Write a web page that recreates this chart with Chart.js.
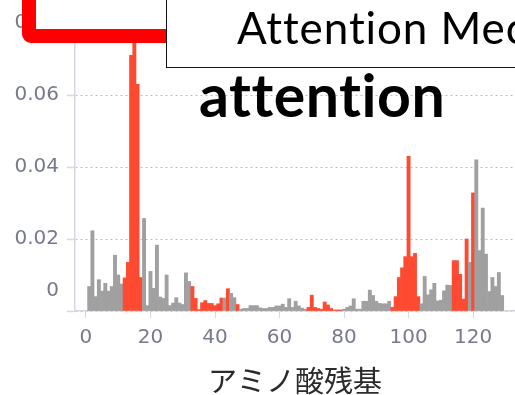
<!DOCTYPE html>
<html>
<head>
<meta charset="utf-8">
<script src="https://cdn.jsdelivr.net/npm/chart.js@4.4.1/dist/chart.umd.min.js"></script>
<style>
  html, body { margin: 0; padding: 0; background: #fff; overflow: hidden; }
  #wrap { position: relative; width: 515px; height: 395px; overflow: hidden; }
  #chart { position: absolute; left: 0; top: 0; }
  .frame {
    position: absolute; left: 22px; top: -60px; width: 420px; height: 103px;
    box-sizing: border-box; border: 14px solid #ff0000; border-radius: 9px; background: #fff;
  }
  .slide-box {
    position: absolute; left: 166px; top: -2px; width: 400px; height: 70px;
    box-sizing: border-box; border: 1.5px solid #111; background: #fff;
  }
  .slide-title { position: absolute; left: 237px; top: 5px; font: 44px/44px Lato, "Open Sans", sans-serif; letter-spacing: 0.9px; }
  .big-word { position: absolute; left: 199px; top: 66px; font: bold 59px/58px Lato, "Open Sans", sans-serif; letter-spacing: 0.5px; }
  .slide-title, .big-word {
    white-space: nowrap; color: #000;
    font-variant-ligatures: none; font-feature-settings: "liga" 0, "clig" 0, "dlig" 0, "calt" 0;
  }
</style>
</head>
<body>
<div id="wrap">
  <canvas id="chart" width="515" height="395"></canvas>
  <div class="frame"></div>
  <div class="slide-box"></div>
  <div class="slide-title">Attention Mec</div>
  <div class="big-word">attention</div>
</div>
<script>
// Attention weight per amino acid residue (1..129).
const attention = [
  0.0068, 0.0223, 0.0040, 0.0087, 0.0055, 0.0077, 0.0055, 0.0068, 0.0155, 0.0100,
  0.0075, 0.0092, 0.0135, 0.0710, 0.0850, 0.0630, 0.0093, 0.0257, 0.0015, 0.0110,
  0.0063, 0.0183, 0.0039, 0.0035, 0.0100, 0.0015, 0.0022, 0.0037, 0.0022, 0.0018,
  0.0106, 0.0082, 0.0068, 0.0035, 0.0004, 0.0023, 0.0029, 0.0021, 0.0021, 0.0015,
  0.0020, 0.0036, 0.0036, 0.0062, 0.0049, 0.0037, 0.0018, 0.0005, 0.0007, 0.0007,
  0.0015, 0.0015, 0.0015, 0.0009, 0.0007, 0.0007, 0.0010, 0.0010, 0.0014, 0.0014,
  0.0019, 0.0010, 0.0034, 0.0010, 0.0027, 0.0014, 0.0008, 0.0005, 0.0010, 0.0044,
  0.0010, 0.0007, 0.0005, 0.0025, 0.0017, 0.0007, 0.0003, 0.0003, 0.0003, 0.0005,
  0.0010, 0.0014, 0.0034, 0.0005, 0.0005, 0.0027, 0.0027, 0.0058, 0.0043, 0.0027,
  0.0021, 0.0020, 0.0020, 0.0027, 0.0010, 0.0040, 0.0093, 0.0120, 0.0151, 0.0430,
  0.0151, 0.0160, 0.0040, 0.0020, 0.0096, 0.0045, 0.0059, 0.0077, 0.0028, 0.0030,
  0.0056, 0.0072, 0.0071, 0.0140, 0.0140, 0.0102, 0.0033, 0.0200, 0.0135, 0.0328,
  0.0420, 0.0168, 0.0286, 0.0158, 0.0054, 0.0093, 0.0068, 0.0107, 0.0043,
];
const residues = attention.map((_, i) => i + 1);

// Residues drawn in red (the highlighted regions).
const highlighted = [
  12, 13, 14, 15, 16, 17,
  33, 34, 35, 36, 37, 38, 39, 40, 41, 42, 44, 47,
  69, 70, 71, 72, 73, 74, 75, 76, 77, 78, 79,
  95, 96, 97, 98, 99, 100, 101, 102, 103,
  114, 115, 116, 117, 118, 120,
];

const xTicks = [0, 20, 40, 60, 80, 100, 120];
const yTicks = [0, 0.02, 0.04, 0.06, 0.08];

const RED = '#ff4a32';
const GRAY = '#a0a0a0';
const LABEL = '#777a8e';
const AXIS = '#d6d6e4';

const points = residues.map((res, i) => ({x: res, y: attention[i]}));
const colors = residues.map(res => highlighted.includes(res) ? RED : GRAY);

new Chart(document.getElementById('chart'), {
  type: 'bar',
  data: {
    datasets: [{
      data: points,
      backgroundColor: colors,
      borderWidth: 0,
      barPercentage: 1,
      categoryPercentage: 1,
    }],
  },
  options: {
    responsive: false,
    animation: false,
    devicePixelRatio: 1,
    layout: {padding: 0},
    plugins: {legend: {display: false}, tooltip: {enabled: false}},
    scales: {
      x: {
        type: 'linear',
        offset: false,
        min: -3.4,
        max: 133,
        afterBuildTicks: (s) => { s.ticks = xTicks.map(v => ({value: v})); },
        afterFit: (s) => { s.height = 84; s.paddingLeft = 0; s.paddingRight = 0; },
        grid: {drawOnChartArea: false, drawTicks: true, tickLength: 7, tickColor: AXIS, offset: false},
        border: {display: true, color: AXIS, width: 1.5},
        ticks: {
          color: LABEL, padding: 8, maxRotation: 0, autoSkip: false,
          font: {family: 'DejaVu Sans', size: 20},
        },
        title: {
          display: true, text: 'アミノ酸残基', color: '#2b2b2b',
          font: {family: 'Noto Sans CJK JP', size: 29, lineHeight: 1},
          padding: {top: 0, bottom: 0},
        },
      },
      y: {
        min: 0,
        max: 0.0864,
        afterBuildTicks: (s) => { s.ticks = yTicks.map(v => ({value: v})); },
        afterFit: (s) => { s.width = 75; s.paddingTop = 0; s.paddingBottom = 0; },
        grid: {
          color: '#bdbdbd', lineWidth: 1,
          tickLength: 8, tickColor: AXIS, tickBorderDash: [], tickWidth: 1.5,
        },
        border: {display: true, color: AXIS, width: 1.5, dash: [2, 3]},
        ticks: {
          color: LABEL, padding: 8, autoSkip: false,
          font: {family: 'DejaVu Sans', size: 20, lineHeight: 2.05},
          callback: (v) => v === 0 ? ['0', ''] : v.toFixed(2),
        },
      },
    },
  },
});
</script>
</body>
</html>
